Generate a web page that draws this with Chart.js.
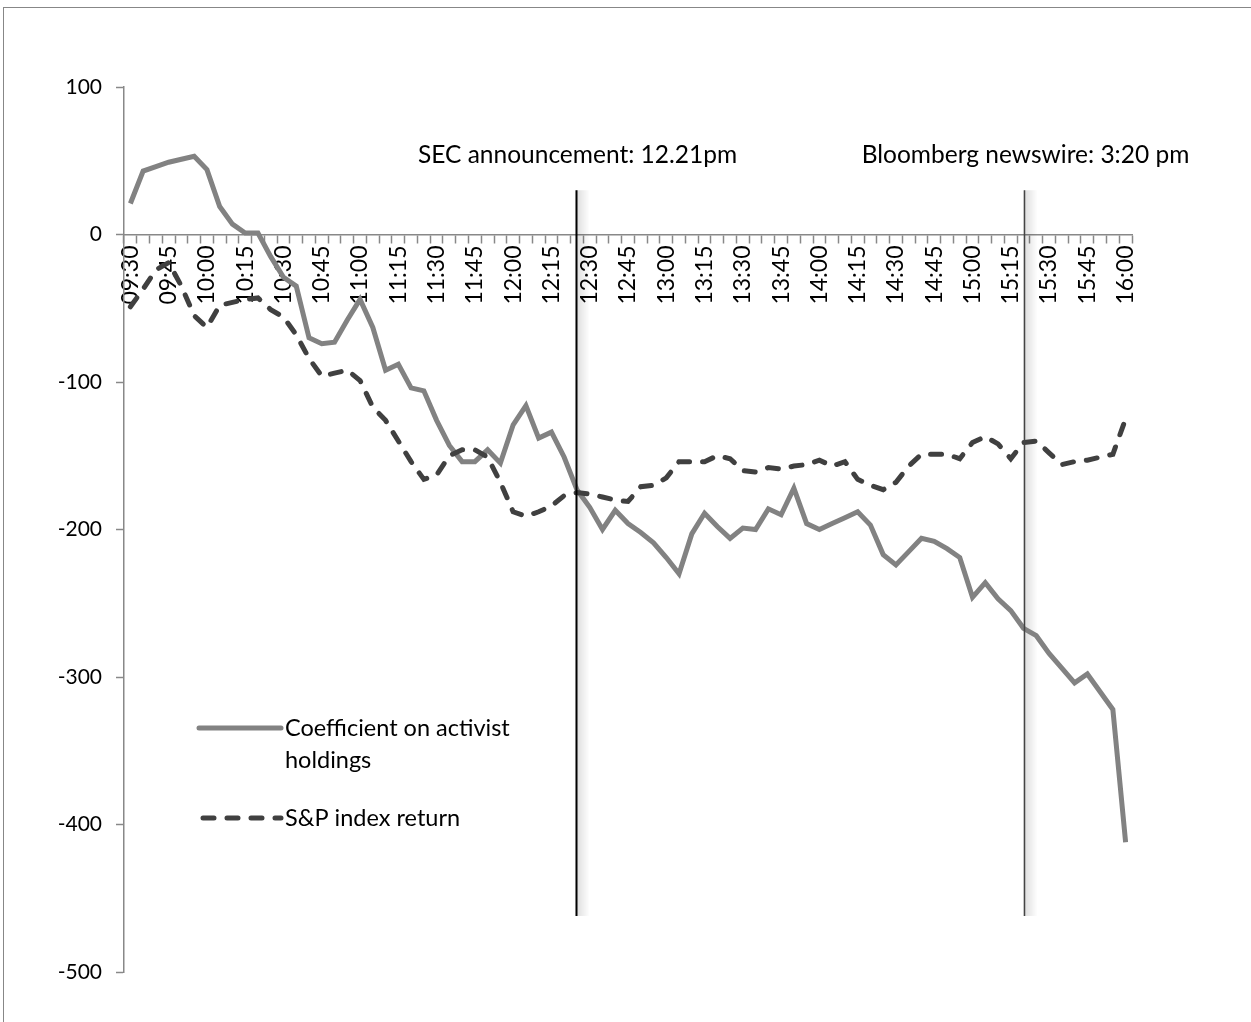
<!DOCTYPE html>
<html>
<head>
<meta charset="utf-8">
<script src="https://cdn.jsdelivr.net/npm/chart.js@4.4.1/dist/chart.umd.min.js"></script>
<style>
  html, body { margin: 0; padding: 0; background: #fff; }
  #wrap { position: relative; width: 1251px; height: 1022px; overflow: hidden; }
  #frame { position: absolute; left: 3px; top: 7px; width: 1260px; height: 1030px;
           border-top: 1.5px solid #878787; border-left: 1.5px solid #878787; pointer-events: none; }
</style>
</head>
<body>
<div id="wrap">
  <canvas id="chart"></canvas>
  <div id="frame"></div>
</div>
<script>
// 5-minute intervals, 09:30 to 16:00
var times = [
  '09:30', '09:35', '09:40', '09:45', '09:50', '09:55', '10:00', '10:05', '10:10', '10:15',
  '10:20', '10:25', '10:30', '10:35', '10:40', '10:45', '10:50', '10:55', '11:00', '11:05',
  '11:10', '11:15', '11:20', '11:25', '11:30', '11:35', '11:40', '11:45', '11:50', '11:55',
  '12:00', '12:05', '12:10', '12:15', '12:20', '12:25', '12:30', '12:35', '12:40', '12:45',
  '12:50', '12:55', '13:00', '13:05', '13:10', '13:15', '13:20', '13:25', '13:30', '13:35',
  '13:40', '13:45', '13:50', '13:55', '14:00', '14:05', '14:10', '14:15', '14:20', '14:25',
  '14:30', '14:35', '14:40', '14:45', '14:50', '14:55', '15:00', '15:05', '15:10', '15:15',
  '15:20', '15:25', '15:30', '15:35', '15:40', '15:45', '15:50', '15:55', '16:00'
];

var activistCoef = [
  21, 43, 46, 49, 51, 53, 44, 19, 7, 1,
  1, -15, -29, -35, -70, -74, -73, -58, -44, -63,
  -92, -88, -104, -106, -126, -143, -154, -154, -146, -155,
  -129, -116, -138, -134, -151, -173, -185, -200, -187, -196,
  -202, -209, -219, -230, -203, -189, -198, -206, -199, -200,
  -186, -190, -172, -196, -200, -196, -192, -188, -197, -217,
  -224, -215, -206, -208, -213, -219, -246, -236, -247, -255,
  -267, -272, -284, -294, -304, -298, -310, -322, -412
];

var spReturn = [
  -49, -37, -24, -19, -35, -55, -63, -48, -46, -44,
  -43, -51, -56, -68, -84, -96, -94, -92, -99, -117,
  -126, -140, -154, -166, -163, -150, -146, -146, -151, -168,
  -188, -191, -188, -184, -177, -175, -176, -178, -180, -181,
  -171, -170, -165, -154, -154, -154, -150, -152, -160, -161,
  -158, -159, -157, -156, -153, -157, -154, -166, -170, -173,
  -168, -157, -149, -149, -149, -152, -141, -137, -142, -152,
  -141, -140, -148, -156, -154, -153, -151, -149, -125
];

var seriesNames = ['Coefficient on activist holdings', 'S&P index return'];

// event markers, position given in category units
var events = [
  { text: 'SEC announcement: 12.21pm', at: 34.9, color: '#000000', width: 2 },
  { text: 'Bloomberg newswire: 3:20 pm', at: 70, color: '#444444', width: 1.5 }
];
var eventTop = 30;
var eventBottom = -462;

var FONT = 'Lato, "Open Sans", sans-serif';
var SOLID_GREY = '#828282';
var DASH_GREY = '#404040';
var DASH = [11, 13];

var eventPlugin = {
  id: 'eventLines',
  beforeDatasetsDraw: function (chart) {
    var ctx = chart.ctx, xs = chart.scales.x, ys = chart.scales.y;
    var top = ys.getPixelForValue(eventTop), bottom = ys.getPixelForValue(eventBottom);
    ctx.save();
    events.forEach(function (ev) {
      var px = xs.getPixelForValue(ev.at);
      var grad = ctx.createLinearGradient(px, 0, px + 14, 0);
      grad.addColorStop(0, 'rgba(0,0,0,0.14)');
      grad.addColorStop(1, 'rgba(0,0,0,0)');
      ctx.fillStyle = grad;
      ctx.fillRect(px, top, 14, bottom - top);
    });
    ctx.restore();
  },
  afterDatasetsDraw: function (chart) {
    var ctx = chart.ctx, xs = chart.scales.x, ys = chart.scales.y;
    var top = ys.getPixelForValue(eventTop), bottom = ys.getPixelForValue(eventBottom);
    ctx.save();
    events.forEach(function (ev) {
      var px = Math.round(xs.getPixelForValue(ev.at)) + 0.5;
      ctx.strokeStyle = ev.color;
      ctx.lineWidth = ev.width;
      ctx.beginPath();
      ctx.moveTo(px, top);
      ctx.lineTo(px, bottom);
      ctx.stroke();

      ctx.fillStyle = '#000';
      ctx.font = '24.5px ' + FONT;
      ctx.textAlign = 'center';
      ctx.textBaseline = 'middle';
      ctx.fillText(ev.text, px + 1, 155);
    });
    ctx.restore();
  },
  afterDraw: function (chart) {
    // legend, drawn by hand inside the plot like the original
    var ctx = chart.ctx;
    ctx.save();
    ctx.lineWidth = 5;
    ctx.lineCap = 'round';

    ctx.strokeStyle = SOLID_GREY;
    ctx.setLineDash([]);
    ctx.beginPath();
    ctx.moveTo(199, 728);
    ctx.lineTo(281, 728);
    ctx.stroke();

    ctx.strokeStyle = DASH_GREY;
    ctx.setLineDash(DASH);
    ctx.beginPath();
    ctx.moveTo(203, 818);
    ctx.lineTo(281, 818);
    ctx.stroke();

    ctx.fillStyle = '#000';
    ctx.font = '23.5px ' + FONT;
    ctx.textAlign = 'left';
    ctx.textBaseline = 'middle';
    ctx.fillText('Coefficient on activist', 285, 728);
    ctx.fillText('holdings', 285, 760);
    ctx.fillText(seriesNames[1], 285, 818);
    ctx.restore();
  }
};

var ctx = document.getElementById('chart').getContext('2d');
var chart = new Chart(ctx, {
  type: 'line',
  data: {
    labels: times,
    datasets: [
      {
        label: seriesNames[0],
        data: activistCoef,
        borderColor: SOLID_GREY,
        borderWidth: 5,
        pointRadius: 0,
        tension: 0,
        fill: false,
        order: 1
      },
      {
        label: seriesNames[1],
        data: spReturn,
        borderColor: DASH_GREY,
        borderWidth: 5,
        borderDash: DASH,
        borderCapStyle: 'round',
        pointRadius: 0,
        tension: 0,
        fill: false,
        order: 0
      }
    ]
  },
  options: {
    responsive: true,
    maintainAspectRatio: false,
    animation: false,
    layout: { padding: { top: 87, right: 119, bottom: 50, left: 0 } },
    plugins: {
      legend: { display: false },
      tooltip: { enabled: false }
    },
    scales: {
      x: {
        position: { y: 0 },
        offset: true,
        grid: {
          display: true,
          drawOnChartArea: false,
          drawTicks: true,
          tickLength: 8,
          offset: true,
          color: '#888',
          tickColor: '#888',
          tickWidth: 1.5
        },
        border: { color: '#888', width: 1.5 },
        ticks: {
          autoSkip: false,
          minRotation: 90,
          maxRotation: 90,
          padding: 3,
          color: '#000',
          font: { family: FONT, size: 23 },
          callback: function (value, index) {
            return index % 3 === 0 ? times[index] : '';
          }
        },
        afterFit: function (scale) { scale.height = 0; }
      },
      y: {
        min: -500,
        max: 100,
        grid: {
          display: true,
          drawOnChartArea: false,
          drawTicks: true,
          tickLength: 8,
          color: '#888',
          tickColor: '#888',
          tickWidth: 1.5
        },
        border: { color: '#888', width: 1.5 },
        ticks: {
          stepSize: 100,
          padding: 14,
          color: '#000',
          font: { family: FONT, size: 21 }
        },
        afterFit: function (scale) { scale.width = 124; }
      }
    }
  },
  plugins: [eventPlugin]
});
</script>
</body>
</html>
